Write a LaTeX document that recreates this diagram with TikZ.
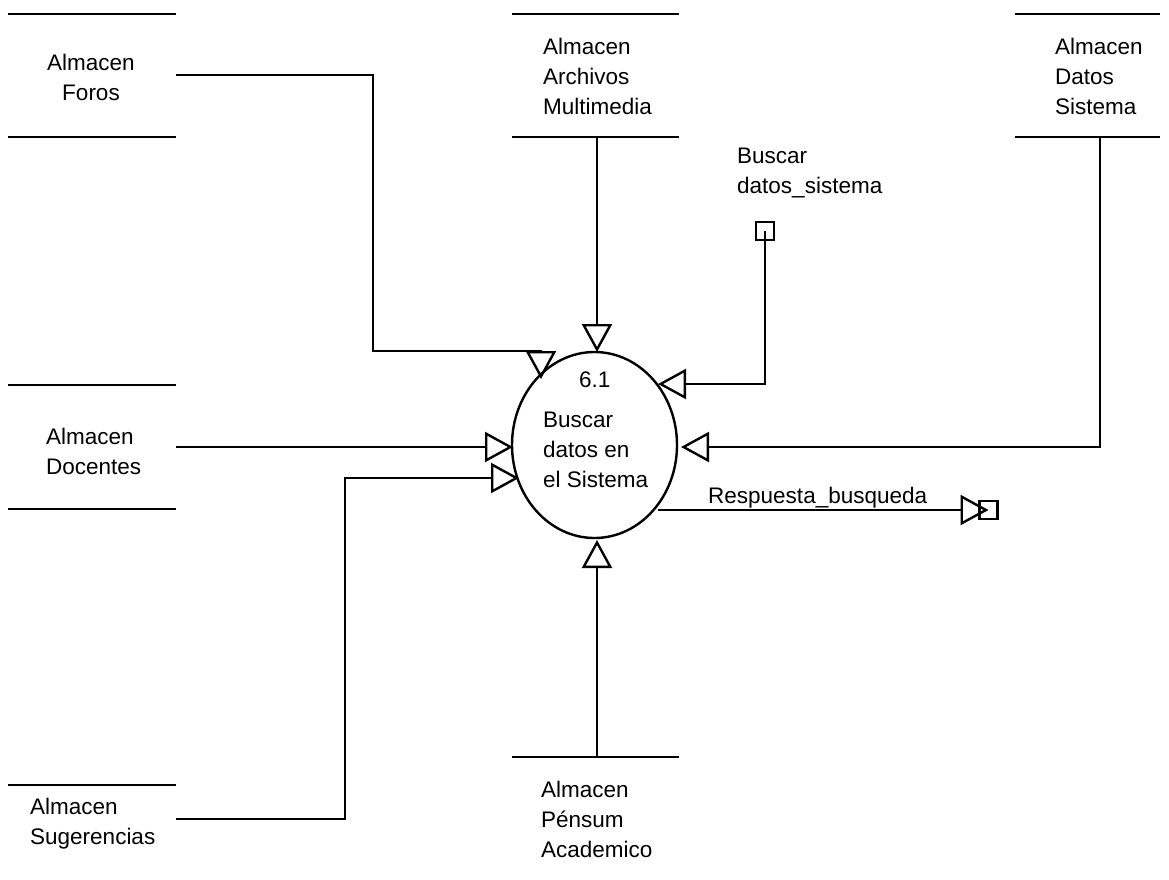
\documentclass[tikz,border=0pt]{standalone}
\usepackage{fontspec}
\setmainfont{Liberation Sans}
\usetikzlibrary{arrows.meta,shapes.geometric}
\begin{document}
\begin{tikzpicture}[x=1pt,y=-1pt,
  wire/.style={line width=2.4pt, line join=miter},
  flow/.style={wire, -{Triangle[open,length=28pt,width=30pt]}},
  lbl/.style={font=\fontsize{22.5}{30}\selectfont, inner sep=0pt, align=left, anchor=base west},
  storeline/.style={line width=2.7pt},
  sq/.style={draw, line width=2.4pt, minimum size=18pt, inner sep=0pt},
  proc/.style={draw, ellipse, line width=2.4pt, minimum width=165pt, minimum height=186pt, inner sep=0pt}]
\useasboundingbox (0,0) rectangle (1169,879);

% process
\node[proc] (p) at (594.5,445) {};
\node[lbl] (pnum) at (579,387) {6.1};
\node[lbl] (pname) at (543,487) {Buscar\\datos en\\el Sistema};

% stores (open rectangles)
\draw[storeline] (8,14) -- (176,14) (8,137) -- (176,137);
\draw[storeline] (512,14) -- (679,14) (512,137) -- (679,137);
\draw[storeline] (1015,14) -- (1160,14) (1015,137) -- (1160,137);
\draw[storeline] (8,385) -- (176,385) (8,509) -- (176,509);
\draw[storeline] (8,785) -- (176,785);
\draw[storeline] (512,757) -- (679,757);

\node[lbl, align=center, anchor=base] (foros) at (91,100) {Almacen\\Foros};
\node[lbl] (multi) at (543,114) {Almacen\\Archivos\\Multimedia};
\node[lbl] (datsis) at (1055,114) {Almacen\\Datos\\Sistema};
\node[lbl] (doc) at (46,474) {Almacen\\Docentes};
\node[lbl] (sug) at (30,844) {Almacen\\Sugerencias};
\node[lbl] (pen) at (541,857) {Almacen\\Pénsum\\Academico};

% external squares
\node[sq] (sqA) at (765,231) {};
\node[lbl] (bds) at (737,193) {Buscar\\datos\_sistema};
\node[sq] (sqB) at (988.5,510) {};
\node[lbl] (resp) at (708,503) {Respuesta\_busqueda};

% connector end points
\coordinate (forosOut) at (176,75);
\coordinate (forosTip) at (541,379);
\coordinate (multiOut) at (597,137);
\coordinate (multiTip) at (597,352);
\coordinate (datsisOut) at (1100,137);
\coordinate (datsisTip) at (681,447);
\coordinate (docOut) at (176,447);
\coordinate (docTip) at (513,447);
\coordinate (sugOut) at (176,819);
\coordinate (sugTip) at (519,478);
\coordinate (penOut) at (597,757);
\coordinate (penTip) at (597,540);
\coordinate (bdsTip) at (658,384);
\coordinate (respOut) at (658,510);

% flows
\draw[flow] (forosOut) -| (373,351) -- (forosTip |- 0,351) -- (forosTip);
\draw[flow] (multiOut) -- (multiTip);
\draw[flow] (datsisOut) |- (datsisTip);
\draw[flow] (docOut) -- (docTip);
\draw[flow] (sugOut) -| (345,478) -- (sugTip);
\draw[flow] (penOut) -- (penTip);
\draw[flow] (sqA.center) |- (bdsTip);
\draw[flow] (respOut) -- (sqB.center);
\end{tikzpicture}
\end{document}
